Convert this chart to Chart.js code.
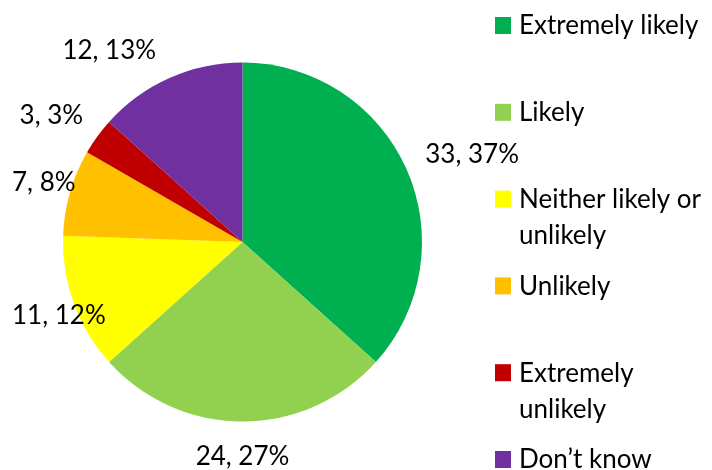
<!DOCTYPE html>
<html>
<head>
<meta charset="utf-8">
<script src="https://cdn.jsdelivr.net/npm/chart.js@4/dist/chart.umd.min.js"></script>
<style>
  html, body { margin: 0; padding: 0; background: #fff; }
  #wrap { width: 712px; height: 470px; position: relative; }
</style>
</head>
<body>
<div id="wrap"><canvas id="chart"></canvas></div>
<script>
const categories = [
  "Extremely likely",
  "Likely",
  "Neither likely or unlikely",
  "Unlikely",
  "Extremely unlikely",
  "Don\u2019t know",
];
const counts = [33, 24, 11, 7, 3, 12];
const colors = ["#00B050", "#92D050", "#FFFF00", "#FFC000", "#C00000", "#7030A0"];

const FONT = "Lato, 'Open Sans', sans-serif";
const FONT_SIZE = 26;

const total = counts.reduce((a, b) => a + b, 0);

// wrap words into lines that fit maxWidth
function wrapText(ctx, text, maxWidth) {
  const words = text.split(" ");
  const lines = [];
  let line = "";
  words.forEach((w) => {
    const test = line ? line + " " + w : w;
    if (line && ctx.measureText(test).width > maxWidth) {
      lines.push(line);
      line = w;
    } else {
      line = test;
    }
  });
  if (line) lines.push(line);
  return lines;
}

// value labels outside each slice, like Excel "outside end"
const outsideLabels = {
  id: "outsideLabels",
  afterDatasetsDraw(chart, args, opts) {
    const ctx = chart.ctx;
    const meta = chart.getDatasetMeta(0);
    ctx.save();
    ctx.font = FONT_SIZE + "px " + FONT;
    ctx.fillStyle = "#000";
    ctx.textAlign = "center";
    ctx.textBaseline = "middle";
    meta.data.forEach((arc, i) => {
      const v = counts[i];
      const text = v + ", " + Math.round((v / total) * 100) + "%";
      const a = (arc.startAngle + arc.endAngle) / 2;
      const r = arc.outerRadius + opts.pad;
      const w = ctx.measureText(text).width;
      const h = FONT_SIZE * 0.8;
      let x = arc.x + r * Math.cos(a) + (w / 2) * Math.cos(a);
      let y = arc.y + r * Math.sin(a) + (h / 2) * Math.sin(a);
      const nudge = opts.nudge[i];
      if (nudge) {
        x += nudge[0];
        y += nudge[1];
      }
      // keep the box inside the canvas like Excel does
      if (x - w / 2 < opts.minX) x = opts.minX + w / 2;
      ctx.fillText(text, x, y);
    });
    ctx.restore();
  },
};

// legend on the right, with wrapped entries
const sideLegend = {
  id: "sideLegend",
  afterDraw(chart, args, opts) {
    const ctx = chart.ctx;
    ctx.save();
    ctx.font = FONT_SIZE + "px " + FONT;
    ctx.textBaseline = "middle";
    ctx.textAlign = "left";
    categories.forEach((label, i) => {
      const y = opts.top + i * opts.step;
      ctx.fillStyle = colors[i];
      ctx.fillRect(opts.left, y - 8, 16, 17);
      ctx.fillStyle = "#000";
      const lines = wrapText(ctx, label, opts.maxWidth);
      lines.forEach((ln, j) => {
        ctx.fillText(ln, opts.left + 24, y + 1 + j * opts.lineHeight);
      });
    });
    ctx.restore();
  },
};

new Chart(document.getElementById("chart"), {
  type: "pie",
  data: {
    labels: categories,
    datasets: [
      {
        data: counts,
        backgroundColor: colors,
        borderWidth: 0,
      },
    ],
  },
  options: {
    responsive: true,
    maintainAspectRatio: false,
    animation: false,
    layout: {
      padding: { left: 63, right: 290, top: 62, bottom: 48 },
    },
    plugins: {
      legend: { display: false },
      tooltip: { enabled: false },
      outsideLabels: { pad: 25, minX: 12, nudge: { 5: [-31, 5] } },
      sideLegend: { left: 495, top: 25, step: 86.8, lineHeight: 36, maxWidth: 200 },
    },
  },
  plugins: [outsideLabels, sideLegend],
});
</script>
</body>
</html>
